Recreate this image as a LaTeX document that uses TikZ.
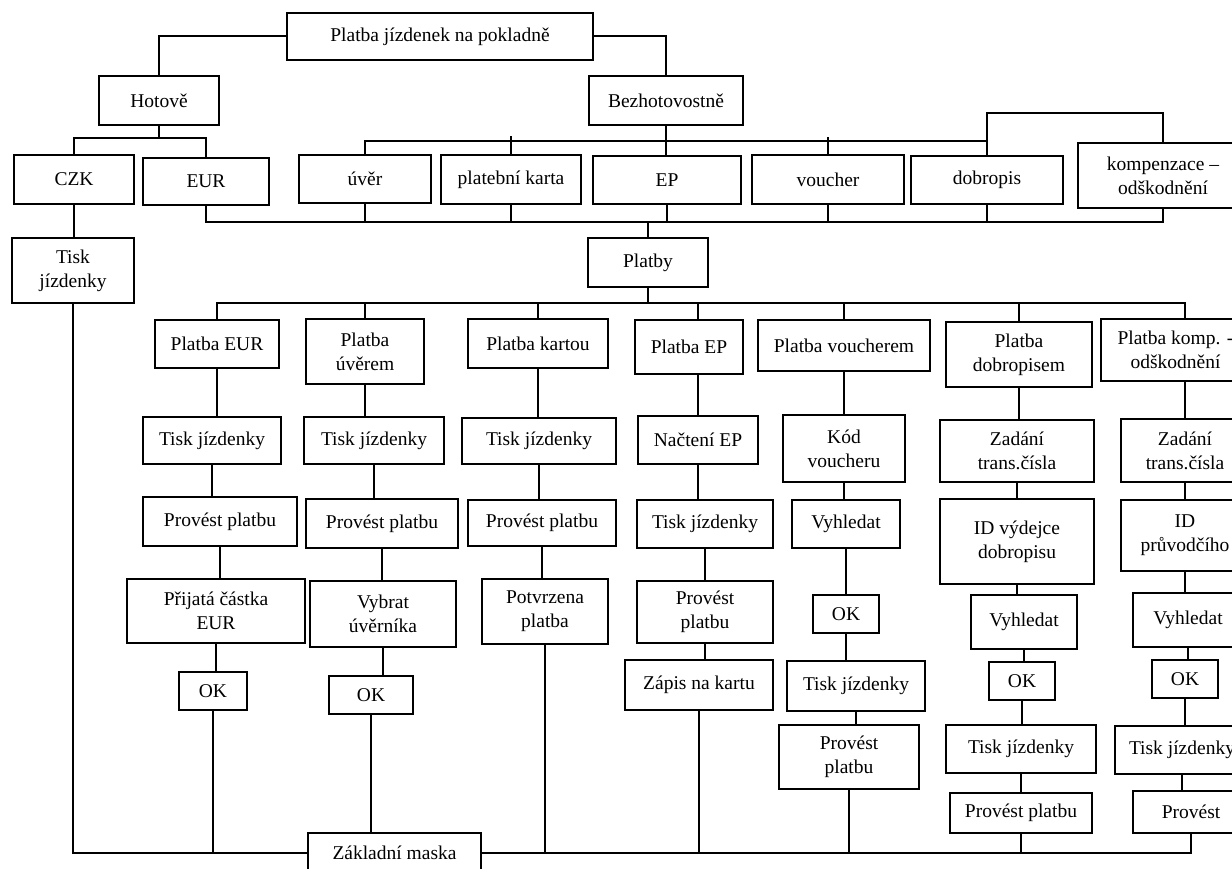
\documentclass[tikz,border=0pt]{standalone}
\usepackage{fontspec}
\setmainfont{Liberation Serif}
\newcommand\bx[6]{\node[box, minimum width={(#4-#2)*1pt}, minimum height={(#5-#3)*1pt}] (#1) at ({(#2+#4)/2},{(#3+#5)/2}) {#6};}
\begin{document}
\begin{tikzpicture}[x=1pt,y=-1pt,
  box/.style={draw, line width=1.2pt, fill=white, inner sep=0pt, align=center, font=\fontsize{19.5}{24}\selectfont},
  conn/.style={line width=2pt}]
\clip (0,0) rectangle (1232,869);
% top levels
\bx{top}{287}{13}{593}{60}{Platba jízdenek na pokladně}
\bx{hot}{99}{76}{219}{125}{Hotově}
\bx{bez}{589}{76}{743}{125}{Bezhotovostně}
\bx{czk}{14}{155}{134}{204}{CZK}
\bx{eur}{143}{158}{269}{205}{EUR}
\bx{tiskL}{12}{238}{134}{303}{Tisk\\jízdenky}
\bx{uver}{299}{155}{431}{203}{úvěr}
\bx{karta}{441}{155}{581}{204}{platební karta}
\bx{ep}{593}{156}{741}{204}{EP}
\bx{vouch}{752}{155}{904}{204}{voucher}
\bx{dobr}{911}{156}{1063}{204}{dobropis}
\bx{komp}{1078}{143}{1248}{208}{kompenzace –\\odškodnění}
\bx{platby}{588}{238}{708}{287}{Platby}
% level 2
\bx{pEUR}{155}{320}{279}{368}{Platba EUR}
\bx{pUver}{306}{319}{424}{384}{Platba\\úvěrem}
\bx{pKartou}{468}{319}{608}{368}{Platba kartou}
\bx{pEP}{635}{320}{743}{374}{Platba EP}
\bx{pVouch}{758}{320}{930}{371}{Platba voucherem}
\bx{pDobr}{946}{322}{1092}{387}{Platba\\dobropisem}
\bx{pKomp}{1101}{319}{1250}{381}{Platba komp. -\\odškodnění}
% level 3
\bx{t1}{143}{417}{281}{464}{Tisk jízdenky}
\bx{t2}{304}{417}{444}{464}{Tisk jízdenky}
\bx{t3}{462}{418}{616}{464}{Tisk jízdenky}
\bx{nEP}{638}{416}{758}{464}{Načtení EP}
\bx{kod}{783}{415}{905}{482}{Kód\\voucheru}
\bx{zad1}{940}{420}{1094}{482}{Zadání\\trans.čísla}
\bx{zad2}{1121}{419}{1249}{482}{Zadání\\trans.čísla}
% level 4
\bx{pp1}{143}{497}{297}{546}{Provést platbu}
\bx{pp2}{306}{499}{458}{548}{Provést platbu}
\bx{pp3}{468}{500}{616}{546}{Provést platbu}
\bx{tEP}{637}{500}{773}{548}{Tisk jízdenky}
\bx{vyh1}{792}{500}{900}{548}{Vyhledat}
\bx{idv}{940}{499}{1094}{584}{ID výdejce\\dobropisu}
\bx{idp}{1121}{500}{1249}{571}{ID\\průvodčího}
% level 5
\bx{prij}{127}{579}{305}{643}{Přijatá částka\\EUR}
\bx{vybr}{310}{581}{456}{647}{Vybrat\\úvěrníka}
\bx{potv}{482}{579}{608}{644}{Potvrzena\\platba}
\bx{ppEP}{637}{581}{773}{643}{Provést\\platbu}
\bx{ok3}{813}{595}{879}{633}{OK}
\bx{vyh2}{971}{595}{1077}{649}{Vyhledat}
\bx{vyh3}{1133}{593}{1243}{647}{Vyhledat}
% level 6+
\bx{ok1}{179}{672}{247}{710}{OK}
\bx{ok2}{329}{676}{413}{714}{OK}
\bx{zapis}{625}{660}{773}{710}{Zápis na kartu}
\bx{tV}{787}{661}{925}{711}{Tisk jízdenky}
\bx{ok4}{989}{662}{1055}{700}{OK}
\bx{ok5}{1152}{660}{1218}{698}{OK}
\bx{ppV}{779}{725}{919}{789}{Provést\\platbu}
\bx{tD}{946}{725}{1096}{773}{Tisk jízdenky}
\bx{tK}{1115}{726}{1249}{774}{Tisk jízdenky}
\bx{ppD}{950}{793}{1092}{833}{Provést platbu}
\bx{prov}{1133}{791}{1249}{833}{Provést}
\bx{zakl}{308}{833}{481}{873}{Základní maska}
% connectors: top part
\coordinate (hb) at (158,138);
\draw[conn] (top.west) -| (hot.north);
\draw[conn] (top.east) -| (bez.north);
\draw[conn] (hot.south) -- (hot.south |- hb);
\draw[conn] (czk.north) |- (eur.north |- hb) -- (eur.north);
\draw[conn] (czk.south) -- (czk.south |- tiskL.north);
\coordinate (ub) at (0,141);
\draw[conn] (bez.south) -- (bez.south |- ep.north);
\draw[conn] (uver.north) |- (dobr.north |- ub);
\draw[conn] (karta.north) -- ++(0,-18);
\draw[conn] (vouch.north) -- ++(0,-17);
\coordinate (lp) at (0,113);
\draw[conn] (dobr.north) -- (dobr.north |- lp) -| (komp.north);
\coordinate (lb) at (0,222);
\draw[conn] (eur.south) |- (komp.south |- lb) -- (komp.south);
\foreach \n in {uver,karta,ep,vouch,dobr}
  \draw[conn] (\n.south) -- (\n.south |- lb);
\draw[conn] (platby.north) -- (platby.north |- lb);
% Platby bus
\coordinate (pb) at (0,303);
\draw[conn] (platby.south) -- (platby.south |- pb);
\draw[conn] (pEUR.north) |- (zad2.north |- pb) -- (pKomp.north -| zad2.north);
\foreach \n in {pUver,pKartou,pVouch,pDobr}
  \draw[conn] (\n.north) -- (\n.north |- pb);
\draw[conn] (pEP.north -| nEP.north) -- (nEP.north |- pb);
\draw[conn] (pEP.south -| nEP.north) -- (nEP.north);
\draw[conn] (pKomp.south -| zad2.north) -- (zad2.north);
% column chains
\foreach \a/\b in {pEUR/t1,t1/pp1,pp1/prij,prij/ok1,
                   pUver/t2,t2/pp2,pp2/vybr,vybr/ok2,
                   pKartou/t3,t3/pp3,pp3/potv,
                   nEP/tEP,tEP/ppEP,ppEP/zapis,
                   pVouch/kod,kod/vyh1,vyh1/ok3,ok3/tV,tV/ppV,
                   pDobr/zad1,zad1/idv,idv/vyh2,vyh2/ok4,ok4/tD,tD/ppD,
                   zad2/idp,idp/vyh3,vyh3/ok5,ok5/tK,tK/prov}
  \draw[conn] (\a.south) -- (\a.south |- \b.north);
% bottom bus
\coordinate (bb) at (0,853);
\draw[conn] (tiskL.south) |- (zakl.west);
\draw[conn] (zakl.east) -| (prov.south);
\foreach \n in {ok1,potv,zapis,ppV,ppD}
  \draw[conn] (\n.south) -- (\n.south |- bb);
\draw[conn] (ok2.south) -- (ok2.south |- zakl.north);
\end{tikzpicture}
\end{document}
